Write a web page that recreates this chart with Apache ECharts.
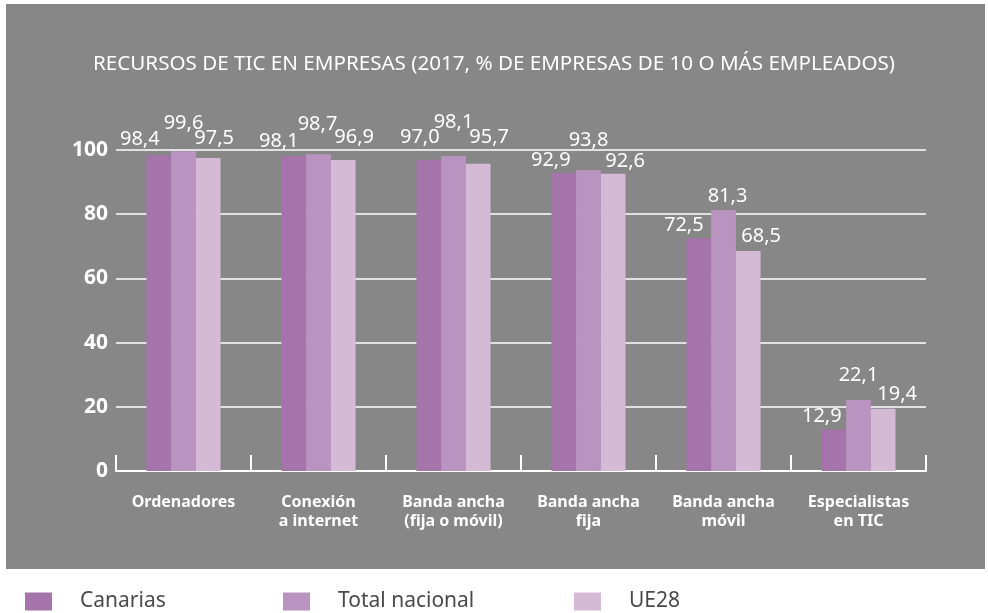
<!DOCTYPE html>
<html>
<head>
<meta charset="utf-8">
<script src="https://cdn.jsdelivr.net/npm/echarts@6/dist/echarts.min.js"></script>
<style>
  html, body { margin: 0; padding: 0; background: #fff; }
  #main { width: 988px; height: 613px; }
</style>
</head>
<body>
<div id="main"></div>
<script>
// datos
var categorias = ['Ordenadores', 'Conexión\na internet', 'Banda ancha\n(fija o móvil)',
                  'Banda ancha\nfija', 'Banda ancha\nmóvil', 'Especialistas\nen TIC'];
var canarias      = [98.4, 98.1, 97.0, 92.9, 72.5, 12.9];
var totalNacional = [99.6, 98.7, 98.1, 93.8, 81.3, 22.1];
var ue28          = [97.5, 96.9, 95.7, 92.6, 68.5, 19.4];
var ticksY        = [0, 20, 40, 60, 80, 100];

// desplazamiento de las etiquetas (x, subida) para que no se pisen
var despCanarias = [[-19, 4], [-15, 3], [-9, 10], [-13, 0], [-15, 1], [-12, 1]];
var despTotal    = [[0, 16], [-1, 18], [0, 22], [0, 18], [4, 2], [0, 13]];
var despUE       = [[6, 8], [11, 11], [11, 15], [12, 0], [13, 3], [14, 2]];

var colores = ['#a474aa', '#ba94c1', '#d5bad5'];
var fuente = '"Noto Sans", sans-serif';

function coma(v) {
    return v.toFixed(1).replace('.', ',');
}

function datos(valores, desp) {
    return valores.map(function (v, i) {
        return { value: v, label: { offset: [desp[i][0], -desp[i][1]] } };
    });
}

function serie(nombre, valores, desp, color) {
    return {
        name: nombre,
        type: 'bar',
        barWidth: 24.7,
        barGap: '0%',
        itemStyle: { color: color },
        label: {
            show: true,
            position: 'top',
            distance: 2,
            color: '#fff',
            fontSize: 20,
            fontFamily: fuente,
            formatter: function (p) { return coma(p.value); }
        },
        data: datos(valores, desp)
    };
}

function leyenda(nombre, izq) {
    return {
        left: izq,
        top: 591,
        icon: 'rect',
        itemWidth: 27,
        itemHeight: 18,
        padding: 0,
        data: [nombre],
        textStyle: {
            color: '#4a4a4a',
            fontSize: 21,
            fontFamily: fuente,
            padding: [0, 0, 0, 23]
        }
    };
}

var myChart = echarts.init(document.getElementById('main'));
var option = {
    backgroundColor: '#fff',
    animation: false,
    graphic: [{
        type: 'rect',
        z: -10,
        shape: { x: 6, y: 4, width: 979, height: 565 },
        style: { fill: '#878788' }
    }],
    title: {
        text: 'RECURSOS DE TIC EN EMPRESAS (2017, % DE EMPRESAS DE 10 O MÁS EMPLEADOS)',
        left: 'center',
        top: 49,
        textStyle: {
            color: '#fff',
            fontWeight: 'normal',
            fontSize: 20.6,
            fontFamily: fuente
        }
    },
    legend: [
        leyenda('Canarias', 25),
        leyenda('Total nacional', 283),
        leyenda('UE28', 574)
    ],
    grid: { left: 116, right: 62, top: 150, bottom: 142 },
    xAxis: {
        type: 'category',
        data: categorias,
        boundaryGap: true,
        axisLine: { show: true, lineStyle: { color: '#fff', width: 2 } },
        axisTick: { show: true, inside: true, length: 16, interval: 0, lineStyle: { color: '#fff', width: 2 } },
        axisLabel: {
            color: '#fff',
            fontSize: 16,
            fontWeight: 'bold',
            fontFamily: fuente,
            lineHeight: 19,
            margin: 22
        }
    },
    yAxis: {
        type: 'value',
        min: ticksY[0],
        max: ticksY[ticksY.length - 1],
        interval: 20,
        axisLine: { show: false },
        axisTick: { show: false },
        splitLine: { lineStyle: { color: '#fff', width: 1.5 } },
        axisLabel: {
            color: '#fff',
            fontSize: 21,
            fontWeight: 'bold',
            fontFamily: fuente,
            margin: 8
        }
    },
    series: [
        serie('Canarias', canarias, despCanarias, colores[0]),
        serie('Total nacional', totalNacional, despTotal, colores[1]),
        serie('UE28', ue28, despUE, colores[2])
    ]
};
myChart.setOption(option);
</script>
</body>
</html>
